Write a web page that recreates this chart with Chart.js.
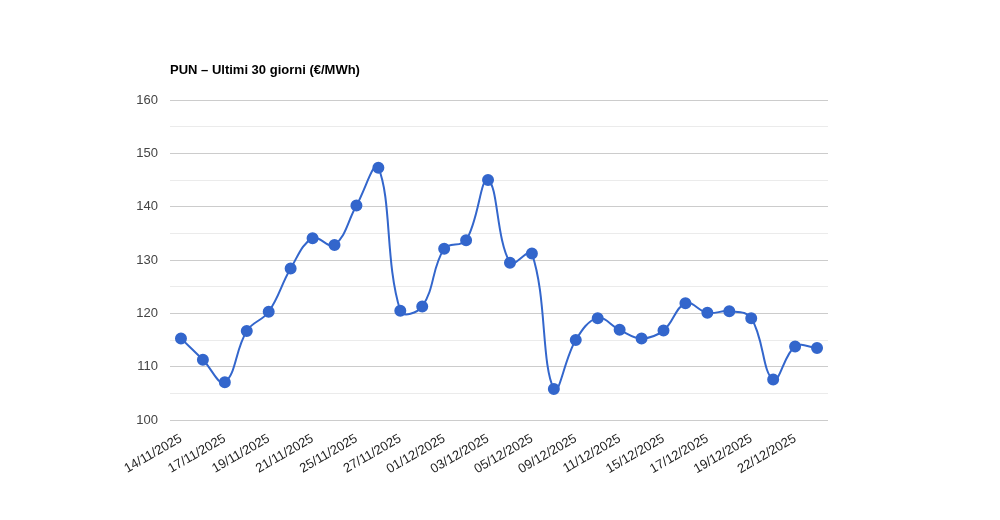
<!DOCTYPE html>
<html><head><meta charset="utf-8">
<script src="https://cdn.jsdelivr.net/npm/chart.js@4"></script>
<style>html,body{margin:0;background:#fff}#wrap{width:1000px;height:520px}</style>
</head><body><div id="wrap"><canvas id="c"></canvas></div>
<script>
var dates = ['14/11/2025','16/11/2025','17/11/2025','18/11/2025','19/11/2025','20/11/2025','21/11/2025','24/11/2025','25/11/2025','26/11/2025',
  '27/11/2025','28/11/2025','01/12/2025','02/12/2025','03/12/2025','04/12/2025','05/12/2025','08/12/2025','09/12/2025','10/12/2025',
  '11/12/2025','12/12/2025','15/12/2025','16/12/2025','17/12/2025','18/12/2025','19/12/2025','20/12/2025','22/12/2025','23/12/2025'];
var pun = [115.3,111.3,107.1,116.7,120.3,128.4,134.1,132.8,140.2,147.3,
  120.5,121.3,132.1,133.7,145.0,129.5,131.2,105.8,115.0,119.1,
  116.9,115.3,116.8,121.9,120.1,120.4,119.1,107.6,113.8,113.5];
var titleText = 'PUN – Ultimi 30 giorni (€/MWh)';

var titlePlugin = {
  id: 'leftTitle',
  afterDraw: function(chart) {
    var ctx = chart.ctx;
    ctx.save();
    ctx.font = 'bold 13px Arial, "Liberation Sans"';
    ctx.fillStyle = '#000';
    ctx.textBaseline = 'middle';
    ctx.fillText(titleText, chart.chartArea.left, 70);
    ctx.restore();
  }
};

new Chart(document.getElementById('c'), {
  type: 'line',
  data: {labels: dates, datasets: [{
    data: pun, borderColor: '#3366cc', backgroundColor: '#3366cc',
    borderWidth: 2, pointRadius: 5, tension: 0.4, fill: false
  }]},
  options: {
    responsive: true, maintainAspectRatio: false, animation: false,
    layout: {padding: {top: 100, right: 172, bottom: 8, left: 0}},
    plugins: {legend: {display: false}, tooltip: {enabled: false}},
    scales: {
      x: {
        offset: true,
        grid: {display: false}, border: {display: false},
        afterFit: function(s) { s.height = 92; },
        ticks: {autoSkip: false, minRotation: 30, maxRotation: 30, color: '#222',
          font: {size: 13, family: 'Arial, "Liberation Sans"'},
          callback: function(v, i) { return i % 2 === 0 ? dates[i] : ''; }}
      },
      y: {
        min: 100, max: 160,
        afterFit: function(s) { s.width = 170; },
        border: {display: false},
        grid: {color: function(c) { return c.tick.value % 10 === 0 ? '#cccccc' : '#ebebeb'; }, drawTicks: false},
        ticks: {stepSize: 5, padding: 12, color: '#444',
          font: {size: 13, family: 'Arial, "Liberation Sans"'},
          callback: function(v) { return v % 10 === 0 ? v : ''; }}
      }
    }
  },
  plugins: [titlePlugin]
});
</script></body></html>
